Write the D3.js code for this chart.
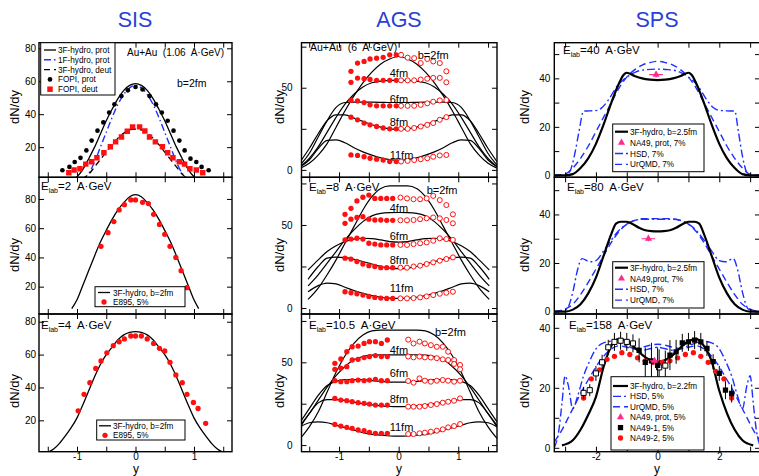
<!DOCTYPE html>
<html>
<head>
<meta charset="utf-8">
<script src="https://cdn.jsdelivr.net/npm/d3@7"></script>
<style>
  body { margin: 0; background: #fff; }
  text { font-family: "Liberation Sans", Arial, sans-serif; }
</style>
</head>
<body>
<svg id="chart" width="759" height="476"></svg>
<script>
// ---------- data ----------
const columnTitles = ["SIS", "AGS", "SPS"];

// SIS, Au+Au 1.06 A·GeV
const sis1HydroProt = [[-1.05,0.5],[-1.0,2],[-0.9,6.5],[-0.8,13],[-0.7,20],[-0.6,28],[-0.5,36],[-0.4,43],[-0.3,49.5],[-0.2,54.5],[-0.1,57.5],[0,58.5],[0.1,57.5],[0.2,54.5],[0.3,49.5],[0.4,43],[0.5,36],[0.6,28],[0.7,20],[0.8,13],[0.9,6.5],[1.0,2],[1.05,0.5]];
const sis1Hydro1F = [[-0.92,0.5],[-0.8,4],[-0.7,11],[-0.6,20],[-0.5,29],[-0.4,38],[-0.3,46],[-0.2,52],[-0.1,56],[0,57.5],[0.1,56],[0.2,52],[0.3,46],[0.4,38],[0.5,29],[0.6,20],[0.7,11],[0.8,4],[0.92,0.5]];
const sis1HydroDeut = [[-0.92,0.5],[-0.8,3.5],[-0.7,8],[-0.6,12.5],[-0.5,17],[-0.4,21.5],[-0.3,25.5],[-0.2,28.5],[-0.1,30.5],[0,31],[0.1,30.5],[0.2,28.5],[0.3,25.5],[0.4,21.5],[0.5,17],[0.6,12.5],[0.7,8],[0.8,3.5],[0.92,0.5]];
const fopiProtRap = [-1.25,-1.13,-1.04,-0.94,-0.84,-0.75,-0.65,-0.55,-0.45,-0.36,-0.24,-0.13,0,0.12,0.24,0.35,0.45,0.55,0.65,0.75,0.84,0.94,1.04,1.13,1.25];
const fopiProtVal = [6,8,11,13.5,18,24,30,35,41,46,51,54.5,56.5,55,51,46,41,36,30,24,18,13,11,8,6];
const fopiDeutRap = [-1.14,-1.05,-0.95,-0.85,-0.75,-0.66,-0.54,-0.43,-0.34,-0.24,-0.14,-0.05,0.07,0.16,0.24,0.34,0.46,0.55,0.64,0.75,0.84,0.93,1.04,1.15];
const fopiDeutVal = [4.5,6.1,6.9,9.7,11.1,13.5,16.6,20.2,23.2,26.2,29.7,32.3,32.3,29.8,26.2,23.2,20.2,16.6,13.5,11.1,9.7,6.9,6.1,4.5];

// SIS, E_lab = 2 and 4 A·GeV
const sis2Hydro = [[-1.09,5],[-1.0,11],[-0.9,21],[-0.8,31],[-0.7,41],[-0.6,50.5],[-0.5,58.5],[-0.4,66],[-0.3,72.5],[-0.2,77.5],[-0.1,81.5],[0,83],[0.1,81.5],[0.2,77.5],[0.3,72.5],[0.4,66],[0.5,58.5],[0.6,50.5],[0.7,41],[0.8,31],[0.9,21],[1.0,11],[1.08,5]];
const e895At2Rap = [-0.59,-0.47,-0.37,-0.28,-0.19,-0.08,0,0.12,0.22,0.31,0.41,0.5,0.59,0.69,0.78,0.88];
const e895At2Val = [47.6,56.9,64.5,72.5,76.1,79.3,79.3,77.7,76.8,69.5,62.6,55.8,47.6,40,30.9,19.3];
const sis3Hydro = [[-1.5,0.5],[-1.4,2.5],[-1.3,6],[-1.2,10.5],[-1.1,15.5],[-1.0,21.5],[-0.9,29.5],[-0.8,38],[-0.7,46.5],[-0.6,54],[-0.5,60],[-0.4,64.5],[-0.3,69],[-0.2,72],[-0.1,73.5],[0,74],[0.1,73.5],[0.2,72],[0.3,69],[0.4,64.5],[0.5,60],[0.6,54],[0.7,46.5],[0.8,38],[0.9,29.5],[1.0,21.5],[1.1,15.5],[1.2,10.5],[1.3,6],[1.4,2.5],[1.5,0.5]];
const e895At4Rap = [-0.98,-0.88,-0.78,-0.68,-0.59,-0.49,-0.38,-0.28,-0.19,-0.08,0,0.1,0.2,0.31,0.41,0.5,0.59,0.69,0.8,0.88,0.99,1.07,1.2];
const e895At4Val = [25.8,35.8,42.9,51.6,56.1,61.1,65.4,67.8,69.5,71.3,71.3,71.3,69.5,66.8,63.8,62.2,55.3,47.6,42.9,35.8,30.9,27.2,18.2];

// AGS: model curves for b = 2, 4, 6, 8, 11 fm on a rapidity grid
const agsLabels = ["b=2fm", "4fm", "6fm", "8fm", "11fm"];
const agsGrid = [-1.65,-1.5,-1.35,-1.2,-1.05,-0.9,-0.75,-0.6,-0.45,-0.3,-0.15,0,0.15,0.3,0.45,0.6,0.75,0.9,1.05,1.2,1.35,1.5,1.65];
const ags8Grid = [-1.52,-1.35,-1.2,-1.05,-0.9,-0.75,-0.6,-0.45,-0.3,-0.15,0,0.15,0.3,0.45,0.6,0.75,0.9,1.05,1.2,1.35,1.52];

const ags6Model = [
  [1,4,9,16,26,36,45,53,59.5,64.5,67.5,69,67.5,64.5,59.5,53,45,36,26,16,9,4,1],
  [2,7,14,23,32,40,46,50.5,53,54,54.5,54.5,54.5,54,53,50.5,46,40,32,23,14,7,2],
  [3,10,20,30,38,41,41.3,41.3,41.2,41.1,41,41,41,41.1,41.2,41.3,41.3,41,38,30,20,10,3],
  [5,13,22,30,33.5,33.5,31.5,29.5,27.5,26,25,24.5,25,26,27.5,29.5,31.5,33.5,33.5,30,22,13,5],
  [2,6,13,18,18.3,16.5,13.5,11,9,7.3,6.2,5.8,6.2,7.3,9,11,13.5,16.5,18.3,18,13,6,2]
];
const ags6RapFilled = [-0.8,-0.69,-0.58,-0.48,-0.37,-0.26,-0.15,-0.04];
const ags6RapOpen = [0.04,0.15,0.26,0.37,0.48,0.58,0.69,0.8];
const ags6Filled = [
  [60,65,66,67.5,68,68.5,70,70],
  [53.3,55.9,55.5,55,54.5,54.5,54.5,54.5],
  [42.3,42,41,39.6,39,39,39,39],
  [32.1,30.5,28.5,27.4,26.4,25.5,25,25],
  [9.1,8.8,8,7.1,6.5,6,5.1,5.1]
];
const ags6Open = [
  [70,68.3,68,65,67.5,66,65,60],
  [54.5,54.5,54.5,55,55.5,56,56,53.3],
  [39,39,39,39.6,40.5,41.5,42.3,42.5],
  [25,25,25.5,26.4,27.4,28.5,30.5,32.1],
  [5.1,5.5,6,6.5,7.1,8,8.8,9.1]
];

const ags8Model = [
  [5.2,12,20,29,39,49,59,67,72,73.5,73.5,73.5,72,67,59,49,39,29,20,12,5.2],
  [13.3,20,27,34,41,47,52,55.5,57,57.4,57.5,57.4,57,55.5,52,47,41,34,27,20,13.3],
  [22.9,29,34,37.5,40,41.5,42,41.8,41,40,39.7,40,41,41.8,42,41.5,40,37.5,34,29,22.9],
  [17.3,25,30,30.7,30.3,29.3,28,26.5,25,24,23.7,24,25,26.5,28,29.3,30.3,30.7,30,25,17.3],
  [9.8,13.5,15,14.5,12.5,10.5,8.8,7.5,6.5,6,5.8,6,6.5,7.5,8.8,10.5,12.5,14.5,15,13.5,9.8]
];
const ags8RapFilled = [-0.9,-0.8,-0.7,-0.6,-0.5,-0.4,-0.3,-0.2,-0.1];
const ags8RapOpen = [0.03,0.14,0.25,0.36,0.47,0.58,0.69,0.8,0.91];
const ags8Filled = [
  [56.4,60,64.5,66.7,68,66,66,66,66],
  [51,53.5,54.5,55,53.5,53,53,52.8,52.8],
  [41,41.5,42,41.5,39,38.5,38,38,38],
  [30,29.5,28,26.5,25.5,25,24.3,24.3,24.3],
  [9.8,9.2,8.6,7.8,7,6.4,6,5.8,5.8]
];
const ags8Open = [
  [66.5,66,65.5,65.5,66,67.5,65,62,56.4],
  [52.8,52.8,53,53.5,54,54.5,54,53,51],
  [38,38,38.5,39,39.5,40.5,42,41.5,41],
  [24.3,24.3,25,25.5,26.5,27.5,28.5,29.5,30.5],
  [5.8,5.8,6,6.4,7,7.8,8.6,9.2,9.8]
];

const ags10Model = [
  [4,11,20,32,44,54,61.5,66.5,69,69.5,69.5,69.5,69.5,69.5,69,66.5,61.5,54,44,32,20,11,4],
  [12,19,27,35,42,47.5,51.5,53.5,54.3,54.5,54.5,54.5,54.5,54.5,54.3,53.5,51.5,47.5,42,35,27,19,12],
  [14,22,30,36,38.5,39.5,39.5,39.5,39,38.5,38,38,38,38.5,39,39.5,39.5,39.5,38.5,36,30,22,14],
  [11,19,25.5,27.5,27.5,27,26,25,24.3,23.7,23.3,23.2,23.3,23.7,24.3,25,26,27,27.5,27.5,25.5,19,11],
  [11,13.5,14,13.5,12,10.5,9,7.5,6.5,6,5.5,5.4,5.5,6,6.5,7.5,9,10.5,12,13.5,14,13.5,11]
];
const ags10RapFilled = [-1.07,-0.97,-0.87,-0.78,-0.68,-0.58,-0.49,-0.39,-0.29,-0.19];
const ags10RapOpen = [0.16,0.25,0.35,0.44,0.54,0.64,0.74,0.83,0.93,1.03];
const ags10Filled = [
  [49.4,52,56.4,59.4,59.8,61.4,62.5,62.5,61.4,63.5],
  [45.8,46.5,47.4,51.4,51.8,52.9,53.5,54.1,53.5,53.5],
  [38.9,38.3,38.3,38.9,39.3,38.9,39.3,39.7,38.9,38.9],
  [28.2,27.2,26.8,26.2,25.6,25.2,24.8,24.2,24.2,24.2],
  [12.5,11.5,10.7,10.1,9.1,8.7,7.7,7.1,7.1,7.1]
];
const ags10Open = [
  [63.7,61.4,62.5,61.4,60.4,59.4,59.4,56.4,51.4,48.4],
  [53.5,53,53.5,53,52.9,52.5,51.8,51.4,49,45.8],
  [38.7,37.7,40.3,38.9,38.3,38.9,39.3,38.9,38.3,38.9],
  [23.2,23.2,23.2,23.6,24.2,24.8,25.6,26.2,26.8,28.2],
  [6.7,6.7,7.1,7.5,8.1,8.7,9.5,10.7,11.5,12.7]
];

// SPS
const sps40Hydro = [[-3.35,0],[-3.0,0],[-2.75,0.5],[-2.5,3],[-2.25,7],[-2.0,13],[-1.75,21],[-1.5,30],[-1.25,38],[-1.1,41.5],[-1.0,42.3],[-0.75,41],[-0.5,40],[-0.25,39.5],[0,39.3],[0.25,39.5],[0.5,40],[0.75,41],[1.0,42.3],[1.1,41.5],[1.25,38],[1.5,30],[1.75,21],[2.0,13],[2.25,7],[2.5,3],[2.75,0.5],[3.0,0],[3.35,0]];
const sps40Hsd = [[-3.35,0],[-3.0,0],[-2.85,1.5],[-2.7,8],[-2.55,18],[-2.4,26.5],[-2.2,26.6],[-1.95,26.8],[-1.8,28],[-1.6,31],[-1.3,37],[-1.0,40.5],[-0.7,42.7],[-0.35,43.6],[0,43.8],[0.35,43.6],[0.7,42.7],[1.0,40.5],[1.3,37],[1.6,31],[1.8,28],[2.0,26.8],[2.25,26.6],[2.5,26.5],[2.62,18],[2.75,8],[2.88,1.5],[3.0,0],[3.35,0]];
const sps40Urqmd = [[-3.35,0],[-3.0,0.5],[-2.75,3],[-2.5,7],[-2.25,12],[-2.0,18],[-1.75,24],[-1.5,30],[-1.25,36],[-1.0,40.5],[-0.75,43.5],[-0.5,45.5],[-0.25,46.5],[0,47],[0.25,46.5],[0.5,45.5],[0.75,43.5],[1.0,40.5],[1.25,36],[1.5,30],[1.75,24],[2.0,18],[2.25,12],[2.5,7],[2.75,3],[3.0,0.5],[3.35,0]];
const sps40Na49 = [[-0.05, 41.5, 0.22, 1.2]]; // rap, dN/dy, x-error, y-error

const sps80Hydro = [[-3.35,0],[-3.0,0],[-2.75,0.8],[-2.5,3],[-2.25,7.5],[-2.0,14],[-1.75,23],[-1.5,32],[-1.35,36.2],[-1.2,37],[-1.0,37],[-0.8,36],[-0.6,34.5],[-0.4,33.5],[-0.2,33.1],[0,33],[0.2,33.1],[0.4,33.5],[0.6,34.5],[0.8,36],[1.0,37],[1.2,37],[1.35,36.2],[1.5,32],[1.75,23],[2.0,14],[2.25,7.5],[2.5,3],[2.75,0.8],[3.0,0],[3.35,0]];
const sps80Hsd = [[-3.35,0],[-2.95,1],[-2.75,8],[-2.6,17],[-2.45,21.8],[-2.2,20.5],[-2.0,21],[-1.75,25],[-1.5,29.5],[-1.25,33.5],[-1.0,36],[-0.75,37.5],[-0.5,38],[-0.25,38],[0,38],[0.25,38],[0.5,38],[0.75,37.5],[1.0,36],[1.25,33.5],[1.5,29.5],[1.75,25],[2.0,21],[2.2,20.5],[2.45,21.8],[2.6,17],[2.75,8],[2.95,1],[3.35,0]];
const sps80Urqmd = [[-3.35,0],[-3.0,1],[-2.75,3],[-2.5,7],[-2.25,12],[-2.0,17.5],[-1.75,23],[-1.5,28.5],[-1.25,33],[-1.0,36],[-0.75,37.5],[-0.5,38.2],[-0.25,38.3],[0,38.3],[0.25,38.3],[0.5,38.2],[0.75,37.5],[1.0,36],[1.25,33],[1.5,28.5],[1.75,23],[2.0,17.5],[2.25,12],[2.5,7],[2.75,3],[3.0,1],[3.35,0]];
const sps80Na49 = [[-0.3, 30, 0.22, 1.0]];

const sps158Hydro = [[-3.1,0.8],[-2.75,2.5],[-2.5,6],[-2.25,11],[-2.0,17],[-1.75,27],[-1.5,34],[-1.25,36.3],[-1.0,35.5],[-0.75,33.5],[-0.5,31],[-0.25,29.3],[0,28.7],[0.25,29.3],[0.5,31],[0.75,33.5],[1.0,35.5],[1.25,36.3],[1.5,34],[1.75,29],[2.0,19],[2.25,11.5],[2.5,6],[2.75,2.5],[3.1,0.8]];
const sps158Hsd = [[-3.35,0],[-3.2,6],[-3.1,15],[-3.0,24],[-2.9,21],[-2.75,13],[-2.6,17],[-2.4,24],[-2.2,29],[-2.0,33],[-1.75,35],[-1.5,35.5],[-1.25,35],[-1.0,34],[-0.75,33],[-0.5,32.5],[-0.25,33],[0,33.5],[0.25,33],[0.5,32.5],[0.75,33],[1.0,34],[1.25,35],[1.5,35.5],[1.75,35],[2.0,33],[2.2,29],[2.4,24],[2.6,17],[2.75,13],[2.9,21],[3.0,24],[3.1,15],[3.2,6],[3.35,0]];
const sps158Urqmd = [[-3.35,2],[-3.1,6],[-2.85,11],[-2.6,16],[-2.4,20],[-2.2,23.5],[-2.0,27],[-1.75,30.5],[-1.5,33],[-1.25,34],[-1.0,33.5],[-0.75,33],[-0.5,33.5],[-0.25,34.2],[0,34.5],[0.25,34.2],[0.5,33.5],[0.75,33],[1.0,33.5],[1.25,34],[1.5,33],[1.75,30.5],[2.0,27],[2.2,23.5],[2.4,20],[2.6,16],[2.85,11],[3.1,6],[3.35,2]];
const na49oneRap = [-0.6,-0.4,-0.2,0.0,0.4,0.6,0.8,1.0,1.2,1.4,1.6,1.8,2.0,2.2,2.4];
const na49oneVal = [32.5,28.5,29,27.5,30.9,32,35,35.3,35.9,35.3,33.1,28.7,24.8,19.2,18.1];
const na49oneErr = [4,5,6,6,5,4,3,3,3,3,2.5,2.5,2.5,3,3];
const na49oneReflRap = [-2.4,-2.2,-2.0,-1.8,-1.6,-1.4,-1.2,-1.0,-0.8,0.05,0.25];
const na49oneReflVal = [18.3,19.2,24.8,28.5,33.5,35.3,35.7,35.3,34.8,26.8,27.4];
const na49oneReflErr = [2,2,2.5,2.5,2.5,3,3,3,3,6,5];
const na49twoRap = [-2.4,-2.15,-1.88,-1.64,-1.4,-1.16,-0.9,-0.65,-0.4,-0.15,0.15,0.4,0.65,0.9,1.16,1.4,1.64,1.88,2.15,2.4];
const na49twoVal = [16.6,23,26,29.5,30.5,31.7,31.1,30,29,28.5,28.5,29,30,31.1,31.7,30.5,28.5,25.5,23,16.6];
const sps158Na49 = [[-0.1, 29, 0.15, 1.0]];

// ---------- layout ----------
const svg = d3.select("#chart");
const cols = { sis: [39, 232], ags: [301.5, 497], sps: [554.3, 760] };
const rows = [[42.7, 177.3], [177.3, 314], [314, 451.7]];
const RED = "#ff1010", BLUE = "#1f2fff", MAGENTA = "#ff2a8a";
let clipCount = 0;

function panel(col, row, xDomain, yDomain, xTicks, xLabels, yTicks, yLabels, yPad) {
    const [x0, x1] = cols[col];
    const [y0, y1] = rows[row];
    const x = d3.scaleLinear().domain(xDomain).range([x0, x1]);
    const y = d3.scaleLinear().domain(yDomain).range([y1, y0]);
    const g = svg.append("g");
    const id = "clip" + (clipCount++);
    g.append("clipPath").attr("id", id).append("rect")
        .attr("x", x0).attr("y", y0).attr("width", x1 - x0).attr("height", y1 - y0);
    const plot = g.append("g").attr("clip-path", `url(#${id})`);
    const axes = g.append("g");
    const yt = yTicks.filter(v => v >= yDomain[0] && v <= yDomain[1]);
    const fy = v => yLabels.includes(v) ? String(v) : "";
    const fx = v => (row === 2 && xLabels.includes(v)) ? String(v) : "";
    const style = sel => {
        sel.select(".domain").remove();
        sel.selectAll("text").attr("font-size", 10).attr("font-family", "Liberation Sans, Arial").attr("fill", "#000");
        sel.selectAll("line").attr("stroke", "#000");
    };
    axes.append("g").attr("transform", `translate(${x0},0)`)
        .call(d3.axisLeft(y).tickValues(yt).tickSize(-5).tickPadding(yPad).tickFormat(fy)).call(style);
    axes.append("g").attr("transform", `translate(${x1},0)`)
        .call(d3.axisRight(y).tickValues(yt).tickSize(-5).tickFormat("")).call(style);
    axes.append("g").attr("transform", `translate(0,${y1})`)
        .call(d3.axisBottom(x).tickValues(xTicks).tickSize(-5).tickPadding(1).tickFormat(fx)).call(style);
    axes.append("g").attr("transform", `translate(0,${y0})`)
        .call(d3.axisTop(x).tickValues(xTicks).tickSize(-5).tickFormat("")).call(style);
    axes.append("rect").attr("x", x0).attr("y", y0).attr("width", x1 - x0).attr("height", y1 - y0)
        .attr("fill", "none").attr("stroke", "#000").attr("stroke-width", 1.4);
    return { g, plot, x, y };
}

function curve(p, pts, color, width, dash) {
    p.plot.append("path").datum(pts)
        .attr("fill", "none").attr("stroke", color).attr("stroke-width", width)
        .attr("stroke-dasharray", dash || null)
        .attr("d", d3.line().x(d => p.x(d[0])).y(d => p.y(d[1])).curve(d3.curveMonotoneX));
}

const markers = {
    blackDot: { sym: d3.symbolCircle, size: 17, fill: "#000", stroke: "none" },
    redSquare: { sym: d3.symbolSquare, size: 30, fill: RED, stroke: "none" },
    redDot: { sym: d3.symbolCircle, size: 22, fill: RED, stroke: "none" },
    redOpen: { sym: d3.symbolCircle, size: 20, fill: "#fff", stroke: RED },
    blackSquare: { sym: d3.symbolSquare, size: 28, fill: "#000", stroke: "none" },
    openSquare: { sym: d3.symbolSquare, size: 26, fill: "#fff", stroke: "#000" },
    triangle: { sym: d3.symbolTriangle, size: 22, fill: MAGENTA, stroke: "none" }
};

function marks(p, xs, ys, kind, errs) {
    const m = markers[kind];
    const pts = xs.map((r, i) => [r, ys[i], errs ? errs[i] : 0]);
    if (errs) {
        p.plot.append("g").selectAll("line").data(pts).join("line")
            .attr("x1", d => p.x(d[0])).attr("x2", d => p.x(d[0]))
            .attr("y1", d => p.y(d[1] - d[2])).attr("y2", d => p.y(d[1] + d[2]))
            .attr("stroke", "#000").attr("stroke-width", 1);
    }
    p.plot.append("g").selectAll("path").data(pts).join("path")
        .attr("transform", d => `translate(${p.x(d[0])},${p.y(d[1])})`)
        .attr("d", d3.symbol(m.sym, m.size))
        .attr("fill", m.fill).attr("stroke", m.stroke).attr("stroke-width", 1);
}

function na49Point(p, data) {
    data.forEach(([r, v, ex, ey]) => {
        p.plot.append("line").attr("x1", p.x(r - ex)).attr("x2", p.x(r + ex))
            .attr("y1", p.y(v)).attr("y2", p.y(v)).attr("stroke", MAGENTA).attr("stroke-width", 1.2);
        p.plot.append("line").attr("x1", p.x(r)).attr("x2", p.x(r))
            .attr("y1", p.y(v - ey)).attr("y2", p.y(v + ey)).attr("stroke", MAGENTA).attr("stroke-width", 1.2);
    });
    marks(p, data.map(d => d[0]), data.map(d => d[1]), "triangle");
}

function note(x, y, str, size) {
    return svg.append("text").attr("x", x).attr("y", y).attr("font-size", size || 10)
        .style("white-space", "pre").text(str);
}

function elab(x, y, value) {
    const t = svg.append("text").attr("x", x).attr("y", y).attr("font-size", 11.5).style("white-space", "pre");
    t.append("tspan").text("E");
    t.append("tspan").attr("font-size", 7).attr("dy", 2.5).text("lab");
    t.append("tspan").attr("dy", -2.5).text(`=${value}  A·GeV`);
}

// legend: items of {label, line:[color,width,dash]} or {label, mark:kind}
function legend(x, y, w, h, first, gap, lineX, textX, items) {
    svg.append("rect").attr("x", x).attr("y", y).attr("width", w).attr("height", h)
        .attr("fill", "#fff").attr("stroke", "#000").attr("stroke-width", 1);
    items.forEach((it, i) => {
        const cy = y + first + i * gap;
        if (it.line) {
            svg.append("line").attr("x1", lineX[0]).attr("x2", lineX[1]).attr("y1", cy).attr("y2", cy)
                .attr("stroke", it.line[0]).attr("stroke-width", it.line[1])
                .attr("stroke-dasharray", it.line[2] || null);
        } else {
            const m = markers[it.mark];
            svg.append("path").attr("transform", `translate(${(lineX[0] + lineX[1]) / 2},${cy})`)
                .attr("d", d3.symbol(m.sym, m.size)).attr("fill", m.fill)
                .attr("stroke", m.stroke).attr("stroke-width", 1);
        }
        svg.append("text").attr("x", textX).attr("y", cy + 3).attr("font-size", 8.2).text(it.label);
    });
}

// ---------- titles and axis names ----------
const titleX = [135, 399, 657];
columnTitles.forEach((t, i) => {
    svg.append("text").attr("x", titleX[i]).attr("y", 27).attr("text-anchor", "middle")
        .attr("font-size", 21.5).attr("fill", "#2b3fd6").text(t);
});
const dndyX = [19, 284, 529];
const dndyY = [107, 255, 391];
dndyX.forEach(xx => {
    dndyY.forEach(yy => {
        svg.append("text").attr("transform", `translate(${xx},${yy}) rotate(-90)`)
            .attr("text-anchor", "middle").attr("font-size", 13).text("dN/dy");
    });
});
[136, 399, 657].forEach(xx => {
    svg.append("text").attr("x", xx).attr("y", 473).attr("text-anchor", "middle").attr("font-size", 12).text("y");
});

// ---------- SIS ----------
const sisXT = [-1.5, -1, -0.5, 0, 0.5, 1, 1.5];
const sisXL = [-1, 0, 1];
const sisYT = [20, 40, 60, 80];

const s1 = panel("sis", 0, [-1.65, 1.65], [1.7, 83.4], sisXT, sisXL, sisYT, sisYT, 3);
curve(s1, sis1HydroProt, "#000", 1.3);
curve(s1, sis1Hydro1F, BLUE, 1.4, "7,3,1.5,3");
curve(s1, sis1HydroDeut, "#000", 1.3, "6,4");
marks(s1, fopiProtRap, fopiProtVal, "blackDot");
marks(s1, fopiDeutRap, fopiDeutVal, "redSquare");

const s2 = panel("sis", 1, [-1.65, 1.65], [1.3, 94.8], sisXT, sisXL, sisYT, sisYT, 3);
curve(s2, sis2Hydro, "#000", 1.3);
marks(s2, e895At2Rap, e895At2Val, "redDot");

const s3 = panel("sis", 2, [-1.65, 1.65], [0.9, 84.7], sisXT, sisXL, sisYT, sisYT, 3);
curve(s3, sis3Hydro, "#000", 1.3);
marks(s3, e895At4Rap, e895At4Val, "redDot");

// ---------- AGS ----------
const agsXT = [-1.5, -1, -0.5, 0, 0.5, 1, 1.5];
const agsYT = [0, 25, 50, 75];
const agsYL = [0, 50];
function agsPanel(row, yDomain, grid, model, rapF, filled, rapO, open, labelAt) {
    const p = panel("ags", row, [-1.63, 1.65], yDomain, agsXT, sisXL, agsYT, agsYL, 9);
    model.forEach(vals => curve(p, grid.map((r, i) => [r, vals[i]]), "#000", 1.2));
    filled.forEach(vals => marks(p, rapF, vals, "redDot"));
    open.forEach(vals => marks(p, rapO, vals, "redOpen"));
    agsLabels.forEach((lab, i) => {
        svg.append("text").attr("x", p.x(labelAt[i][0])).attr("y", p.y(labelAt[i][1]))
            .attr("font-size", 11).text(lab);
    });
    return p;
}
const lblOthers = r => [[-0.15, r[0]], [-0.15, r[1]], [-0.15, r[2]], [-0.15, r[3]]];
agsPanel(0, [-4.5, 77.4], agsGrid, ags6Model, ags6RapFilled, ags6Filled, ags6RapOpen, ags6Open,
    [[0.32, 67.5], ...lblOthers([56.7, 40.6, 27, 6.5])]);
note(310, 51, "Au+Au  (6  A·GeV)", 10.5);
agsPanel(1, [-3.6, 78.7], ags8Grid, ags8Model, ags8RapFilled, ags8Filled, ags8RapOpen, ags8Open,
    [[0.47, 68.7], ...lblOthers([57.7, 41.1, 26.5, 9.5])]);
elab(309, 191, "8");
agsPanel(2, [-4, 79.2], agsGrid, ags10Model, ags10RapFilled, ags10Filled, ags10RapOpen, ags10Open,
    [[0.61, 66.1], ...lblOthers([55, 40.9, 25.2, 8.3])]);
elab(309, 329, "10.5");

// ---------- SPS ----------
const spsXT = [-3, -2, -1, 0, 1, 2, 3];
const spsXL = [-2, 0, 2];
const spsYT = [0, 10, 20, 30, 40, 50];
const spsYL = [0, 20, 40];
const hsdDash = "8,3,2,3", urqmdDash = "7,4";

const p40 = panel("sps", 0, [-3.35, 3.32], [-0.8, 54.7], spsXT, spsXL, spsYT, spsYL, 4);
curve(p40, sps40Urqmd, BLUE, 1.4, urqmdDash);
curve(p40, sps40Hsd, BLUE, 1.4, hsdDash);
curve(p40, sps40Hydro, "#000", 2.2);
na49Point(p40, sps40Na49);

const p80 = panel("sps", 1, [-3.35, 3.32], [-1, 55.3], spsXT, spsXL, spsYT, spsYL, 4);
curve(p80, sps80Urqmd, BLUE, 1.4, urqmdDash);
curve(p80, sps80Hsd, BLUE, 1.4, hsdDash);
curve(p80, sps80Hydro, "#000", 2.2);
na49Point(p80, sps80Na49);

const p158 = panel("sps", 2, [-3.35, 3.32], [-1.3, 44.6], spsXT, spsXL, spsYT, spsYL, 4);
curve(p158, sps158Urqmd, BLUE, 1.4, urqmdDash);
curve(p158, sps158Hsd, BLUE, 1.4, hsdDash);
curve(p158, sps158Hydro, "#000", 2.2);
marks(p158, na49twoRap, na49twoVal, "redDot");
marks(p158, na49oneReflRap, na49oneReflVal, "openSquare", na49oneReflErr);
marks(p158, na49oneRap, na49oneVal, "blackSquare", na49oneErr);
na49Point(p158, sps158Na49);

// ---------- annotations & legends ----------
note(127, 55.5, "Au+Au  (1.06  A·GeV)", 10);
note(177, 86.5, "b=2fm", 10.5);
legend(40.7, 42.7, 74.3, 52.3, 7.3, 9.8, [44, 56], 58, [
    { label: "3F-hydro, prot", line: ["#000", 1.3] },
    { label: "1F-hydro, prot", line: [BLUE, 1.4, "7,3,1.5,3"] },
    { label: "3F-hydro, deut", line: ["#000", 1.3, "6,4"] },
    { label: "FOPI, prot", mark: "blackDot" },
    { label: "FOPI, deut", mark: "redSquare" }
]);
elab(41, 190, "2");
legend(95, 286.7, 90, 20, 5.8, 9.5, [98, 110], 113, [
    { label: "3F-hydro, b=2fm", line: ["#000", 1.3] },
    { label: "E895, 5%", mark: "redDot" }
]);
elab(41, 329, "4");
legend(96.7, 420, 88.3, 20, 5.8, 9.5, [99, 111], 113, [
    { label: "3F-hydro, b=2fm", line: ["#000", 1.3] },
    { label: "E895, 5%", mark: "redDot" }
]);

elab(563, 54, "40");
legend(612.7, 124, 91.3, 47.7, 7.7, 10.9, [615, 628], 630, [
    { label: "3F-hydro, b=2.5fm", line: ["#000", 2.2] },
    { label: "NA49, prot, 7%", mark: "triangle" },
    { label: "HSD, 7%", line: [BLUE, 1.4, hsdDash] },
    { label: "UrQMD, 7%", line: [BLUE, 1.4, urqmdDash] }
]);
elab(567, 191, "80");
legend(612.7, 261.7, 91.3, 46.3, 6, 10.8, [615, 628], 630, [
    { label: "3F-hydro, b=2.5fm", line: ["#000", 2.2] },
    { label: "NA49,prot, 7%", mark: "triangle" },
    { label: "HSD, 7%", line: [BLUE, 1.4, hsdDash] },
    { label: "UrQMD, 7%", line: [BLUE, 1.4, urqmdDash] }
]);
elab(569, 329, "158");
legend(611, 376.7, 93, 73.3, 9.3, 10.4, [613, 628], 630, [
    { label: "3F-hydro, b=2.2fm", line: ["#000", 2.2] },
    { label: "HSD, 5%", line: [BLUE, 1.4, hsdDash] },
    { label: "UrQMD, 5%", line: [BLUE, 1.4, urqmdDash] },
    { label: "NA49, prot, 5%", mark: "triangle" },
    { label: "NA49-1, 5%", mark: "blackSquare" },
    { label: "NA49-2, 5%", mark: "redDot" }
]);
</script>
</body>
</html>
